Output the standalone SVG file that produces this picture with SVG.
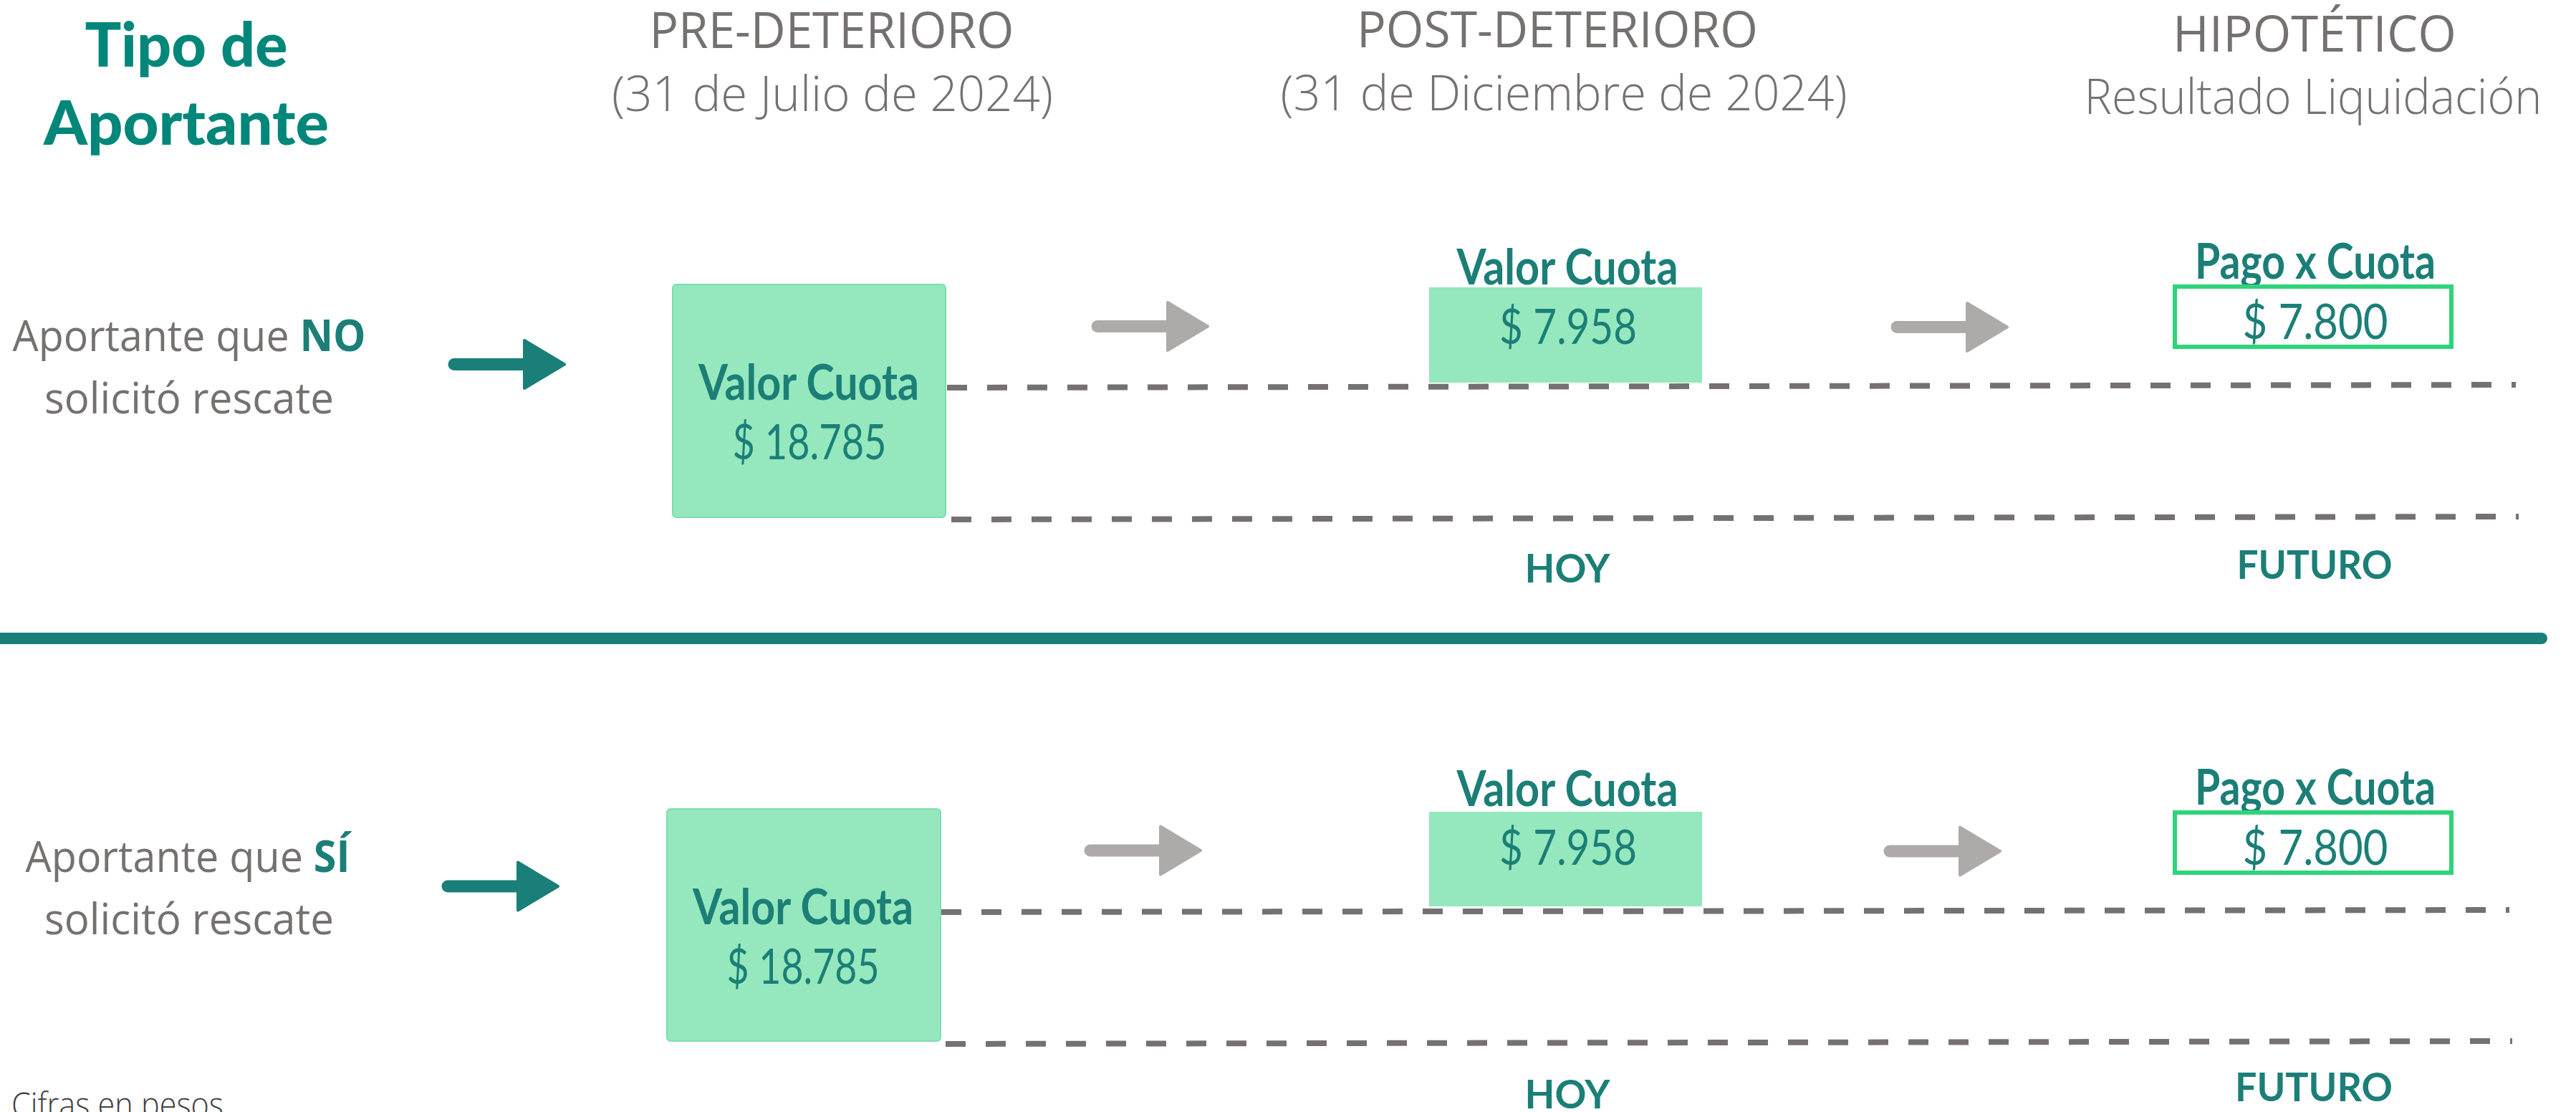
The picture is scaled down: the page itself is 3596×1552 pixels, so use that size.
<svg xmlns="http://www.w3.org/2000/svg" width="3596" height="1552" viewBox="0 0 3596 1552">
<defs>
<style>
.title{font-family:Lato,"Liberation Sans",sans-serif;font-weight:900;fill:#00877A;font-size:85px;text-anchor:middle}
.hdr{font-family:"Open Sans","Liberation Sans",sans-serif;font-weight:400;fill:#767171;font-size:70px;text-anchor:middle}
.sub{font-family:"Open Sans","Liberation Sans",sans-serif;font-weight:300;fill:#767171;font-size:69px;text-anchor:middle}
.lbl{font-family:"Open Sans","Liberation Sans",sans-serif;font-weight:400;fill:#767171;font-size:61px;text-anchor:middle}
.em{font-weight:700;fill:#1B7F77}
.bt{font-family:Lato,"Liberation Sans",sans-serif;font-weight:700;fill:#1B7F77;font-size:68px;text-anchor:middle}
.num{font-family:Lato,"Liberation Sans",sans-serif;font-weight:400;fill:#1B7F77;font-size:67px;text-anchor:middle}
.tl{font-family:Lato,"Liberation Sans",sans-serif;font-weight:700;fill:#1B7F77;font-size:56px;text-anchor:middle}
.note{font-family:"Open Sans","Liberation Sans",sans-serif;font-weight:300;fill:#404040;font-size:47px}
.box{fill:#95E7BD;stroke:#7EDDB0;stroke-width:2}
.pago{fill:#FFFFFF;stroke:#2ED47A;stroke-width:6}
.dash{stroke:#767171;stroke-width:8;stroke-dasharray:28 28;fill:none}
.sep{stroke:#1A7F78;stroke-width:16;stroke-linecap:round}
.ta{fill:#1A7F78;stroke:#1A7F78;stroke-width:4;stroke-linejoin:round}
.ga{fill:#AEAAAA;stroke:#AEAAAA;stroke-width:4;stroke-linejoin:round}
</style>
<path id="arr" d="M6,-6.5 H104 V-33.5 L160,0 L104,33.5 V6.5 H6 A6.5,6.5 0 0 1 6,-6.5 Z"/>
</defs>
<rect width="3596" height="1552" fill="#FFFFFF"/>

<g id="header">
<text class="title" x="260" y="93" textLength="283" lengthAdjust="spacingAndGlyphs">Tipo de</text>
<text class="title" x="260" y="202" textLength="398" lengthAdjust="spacingAndGlyphs">Aportante</text>
<text class="hdr" x="1161" y="67" textLength="509" lengthAdjust="spacingAndGlyphs">PRE-DETERIORO</text>
<text class="sub" x="1162" y="155" textLength="616" lengthAdjust="spacingAndGlyphs">(31 de Julio de 2024)</text>
<text class="hdr" x="2174" y="66" textLength="560" lengthAdjust="spacingAndGlyphs">POST-DETERIORO</text>
<text class="sub" x="2183" y="154" textLength="791" lengthAdjust="spacingAndGlyphs">(31 de Diciembre de 2024)</text>
<text class="hdr" x="3231" y="72" textLength="396" lengthAdjust="spacingAndGlyphs">HIPOTÉTICO</text>
<text class="sub" x="3229" y="159" textLength="639" lengthAdjust="spacingAndGlyphs">Resultado Liquidación</text>
</g>

<g id="separator">
<line class="sep" x1="0" y1="891" x2="3548" y2="891"/>
</g>

<g id="timelines">
<line class="dash" x1="1322" y1="541" x2="3512" y2="537"/>
<line class="dash" x1="1328" y1="725" x2="3516" y2="721"/>
<line class="dash" x1="1314" y1="1273" x2="3503" y2="1270"/>
<line class="dash" x1="1320" y1="1457" x2="3507" y2="1453"/>
</g>

<g id="connectors">
<use href="#arr" class="ta" transform="translate(628,508.5)"/>
<use href="#arr" class="ga" transform="translate(1526,455.5)"/>
<use href="#arr" class="ga" transform="translate(2642,456.5)"/>
<use href="#arr" class="ta" transform="translate(619,1237)"/>
<use href="#arr" class="ga" transform="translate(1516,1187)"/>
<use href="#arr" class="ga" transform="translate(2632,1188)"/>
</g>

<g id="row1-label">
<text class="lbl" x="264" y="490" textLength="493" lengthAdjust="spacingAndGlyphs">Aportante que <tspan class="em">NO</tspan></text>
<text class="lbl" x="264" y="577" textLength="404" lengthAdjust="spacingAndGlyphs">solicitó rescate</text>
</g>
<g id="row1-pre">
<rect class="box" x="939" y="397" width="381" height="325" rx="5"/>
<text class="bt" x="1129" y="558" textLength="308" lengthAdjust="spacingAndGlyphs">Valor Cuota</text>
<text class="num" x="1130" y="641" textLength="215" lengthAdjust="spacingAndGlyphs">$ 18.785</text>
</g>
<g id="row1-post">
<text class="bt" x="2188" y="397" textLength="309" lengthAdjust="spacingAndGlyphs">Valor Cuota</text>
<rect class="box" x="1995" y="401" width="381" height="133" style="stroke:none"/>
<text class="num" x="2189" y="480" textLength="192" lengthAdjust="spacingAndGlyphs">$ 7.958</text>
<text class="tl" x="2188" y="813" textLength="119" lengthAdjust="spacingAndGlyphs">HOY</text>
</g>
<g id="row1-hyp">
<text class="bt" x="3232" y="389" textLength="336" lengthAdjust="spacingAndGlyphs">Pago x Cuota</text>
<rect class="pago" x="3036" y="400" width="386" height="84"/>
<text class="num" x="3232" y="473" textLength="203" lengthAdjust="spacingAndGlyphs">$ 7.800</text>
<text class="tl" x="3231" y="808" textLength="217" lengthAdjust="spacingAndGlyphs">FUTURO</text>
</g>

<g id="row2-label">
<text class="lbl" x="262" y="1217" textLength="453" lengthAdjust="spacingAndGlyphs">Aportante que <tspan class="em">SÍ</tspan></text>
<text class="lbl" x="264" y="1304" textLength="404" lengthAdjust="spacingAndGlyphs">solicitó rescate</text>
</g>
<g id="row2-pre">
<rect class="box" x="931" y="1129" width="382" height="324" rx="5"/>
<text class="bt" x="1121" y="1290" textLength="308" lengthAdjust="spacingAndGlyphs">Valor Cuota</text>
<text class="num" x="1121" y="1373" textLength="213" lengthAdjust="spacingAndGlyphs">$ 18.785</text>
</g>
<g id="row2-post">
<text class="bt" x="2188" y="1125" textLength="309" lengthAdjust="spacingAndGlyphs">Valor Cuota</text>
<rect class="box" x="1995" y="1133" width="381" height="132" style="stroke:none"/>
<text class="num" x="2189" y="1207" textLength="192" lengthAdjust="spacingAndGlyphs">$ 7.958</text>
<text class="tl" x="2188" y="1547" textLength="119" lengthAdjust="spacingAndGlyphs">HOY</text>
</g>
<g id="row2-hyp">
<text class="bt" x="3232" y="1123" textLength="336" lengthAdjust="spacingAndGlyphs">Pago x Cuota</text>
<rect class="pago" x="3036" y="1134" width="386" height="84"/>
<text class="num" x="3232" y="1207" textLength="203" lengthAdjust="spacingAndGlyphs">$ 7.800</text>
<text class="tl" x="3230" y="1537" textLength="220" lengthAdjust="spacingAndGlyphs">FUTURO</text>
</g>

<g id="footnote">
<text class="note" x="16" y="1559" textLength="296" lengthAdjust="spacingAndGlyphs">Cifras en pesos</text>
</g>
</svg>
